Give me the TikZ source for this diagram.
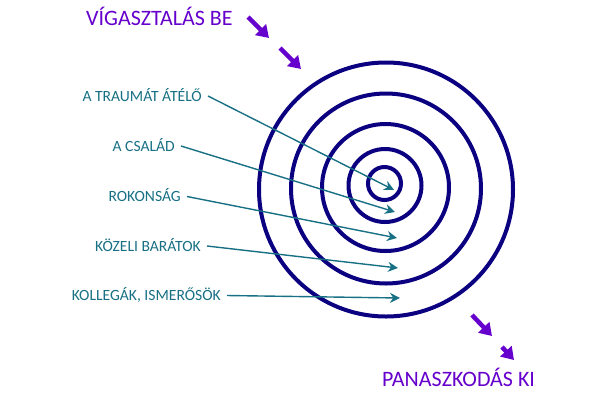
\documentclass[tikz,border=0pt]{standalone}
\usepackage{fontspec}
\setmainfont{Carlito}
\usetikzlibrary{arrows.meta}
\definecolor{navy}{RGB}{10,0,128}
\definecolor{tealc}{RGB}{24,112,132}
\definecolor{purp}{RGB}{102,0,204}
\begin{document}
\begin{tikzpicture}[x=1pt,y=-1pt,
 ring/.style={draw=navy,line width=4pt},
 lbl/.style={text=tealc,font=\fontsize{15.6}{15.6}\selectfont,anchor=east,inner xsep=6pt,inner ysep=0pt,text height=10pt,text depth=0pt},
 ptr/.style={draw=tealc,line width=1.4pt,-{Stealth[length=10pt,width=10pt]}},
 big/.style={draw=purp,line width=4.5pt,-{Triangle[length=12pt 0,width=15pt 0]}},
 ttl/.style={text=purp,font=\fontsize{22}{22}\selectfont,anchor=base west,inner sep=0pt}]
\useasboundingbox (0,0) rectangle (600,400);
% rings
\draw[ring] (386,189.5) circle (127);
\draw[ring] (386,188.5) circle (95);
\draw[ring] (385.5,187.5) circle (63.5);
\draw[ring] (385,185.5) circle (36.5);
\draw[ring] (384.5,183.5) circle (16.5);
% labels
\node[lbl] (l1) at (208,96) {A TRAUMÁT ÁTÉLŐ};
\node[lbl] (l2) at (181,146) {A CSALÁD};
\node[lbl] (l3) at (187,196.5) {ROKONSÁG};
\node[lbl] (l4) at (207,246) {KÖZELI BARÁTOK};
\node[lbl] (l5) at (227,295.5) {KOLLEGÁK, ISMERŐSÖK};
\coordinate (t1) at (394,190);
\coordinate (t2) at (395,212);
\coordinate (t3) at (397,238);
\coordinate (t4) at (398,268);
\coordinate (t5) at (400,298);
\draw[ptr] (l1.east) -- (t1);
\draw[ptr] (l2.east) -- (t2);
\draw[ptr] (l3.east) -- (t3);
\draw[ptr] (l4.east) -- (t4);
\draw[ptr] (l5.east) -- (t5);
% titles
\node[ttl] (in) at (86,25.5) {VÍGASZTALÁS BE};
\node[ttl] (out) at (382,386) {PANASZKODÁS KI};
\coordinate (a1s) at (248,17);
\coordinate (a1e) at (269,38);
\coordinate (a2s) at (280,48);
\coordinate (a2e) at (301,69);
\coordinate (a3s) at (472,315);
\coordinate (a3e) at (492,336);
\coordinate (a4s) at (502,347);
\coordinate (a4e) at (514,360);
\draw[big] (a1s) -- (a1e);
\draw[big] (a2s) -- (a2e);
\draw[big] (a3s) -- (a3e);
\draw[big] (a4s) -- (a4e);
\end{tikzpicture}
\end{document}
